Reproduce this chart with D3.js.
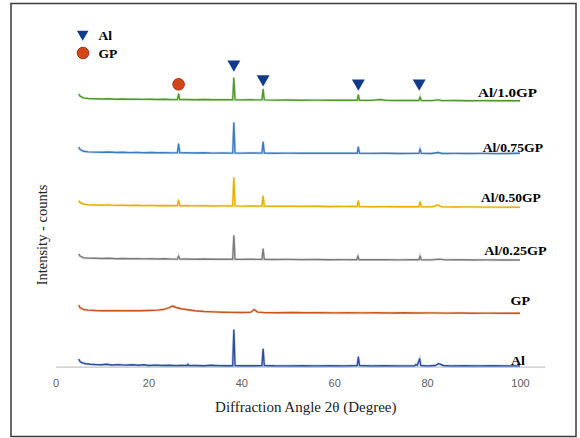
<!DOCTYPE html>
<html>
<head>
<meta charset="utf-8">
<script src="https://cdn.jsdelivr.net/npm/d3@7"></script>
<style>
  body { margin: 0; background: #fff; }
  svg { display: block; }
</style>
</head>
<body>
<script>
'use strict';

// series names, bottom to top
const seriesNames = ['Al', 'GP', 'Al/0.25GP', 'Al/0.50GP', 'Al/0.75GP', 'Al/1.0GP'];

// vertical stacking offset of each pattern (counts)
const seriesOffsets = [0, 530, 1060, 1590, 2120, 2650];

// [2theta, intensity]
const alData = [[5,77],[5.3,50],[5.8,38],[6.5,30],[7.5,25],[8.5,22],[10,20],[11,24],[12,17],[13.5,21],[15,16],[16.5,19],[18,14],[19,19],[20,12],[21.5,16],[23,12],[24.5,15],[26,11],[27,13],[28.3,12],[28.5,24],[28.7,11],[30,12],[32,10],[33.5,14],[35,11],[36.5,9],[38.15,10],[38.4,367],[38.65,12],[40,10],[42,9],[44.45,11],[44.7,177],[44.95,12],[47,9],[50,8],[53,10],[56,8],[59,9],[62,8],[64.95,12],[65.2,97],[65.45,12],[68,8],[71,9],[74,8],[77.3,10],[77.6,22],[77.9,14],[78.4,80],[78.65,12],[80,8],[81.8,12],[82.5,30],[83.5,12],[85,8],[88,10],[91,8],[94,10],[97,8],[100,8]];
const gpData = [[5,87],[5.3,60],[6,42],[7,36],[8.5,32],[10,30],[12,31],[14,29],[16,31],[18,30],[20,32],[22,36],[23.5,45],[24.5,60],[25.2,77],[26,62],[27,50],[28.5,40],[30,30],[32,22],[34,18],[36,15],[38,13],[40,12],[42,14],[42.8,42],[43.5,16],[45,11],[48,10],[51,12],[54,9],[57,11],[60,8],[63,10],[66,8],[69,10],[72,7],[75,9],[78,7],[81,8],[84,6],[87,7],[90,5],[93,6],[96,4],[100,4]];
const al025Data = [[5,67],[5.3,45],[6,30],[7,26],[8.5,24],[10,22],[11.5,25],[13,20],[14.5,22],[16,19],[17.5,21],[19,18],[20.5,20],[22,17],[23.5,19],[25,16],[26.25,17],[26.5,47],[26.75,16],[28,17],[30,15],[32,17],[34,14],[36,15],[38.15,14],[38.4,250],[38.65,15],[40,13],[42,14],[44.45,13],[44.7,117],[44.95,13],[47,12],[50,13],[53,11],[56,12],[59,10],[62,11],[64.85,10],[65.1,47],[65.35,10],[68,9],[71,10],[74,8],[77,9],[78.25,9],[78.5,47],[78.75,9],[81,8],[82.5,16],[84,8],[87,9],[90,7],[93,8],[96,7],[100,7]];
const al050Data = [[5,70],[5.3,52],[6,36],[7,30],[8.5,27],[10,25],[11.5,28],[13,23],[14.5,25],[16,22],[17.5,24],[19,21],[20.5,23],[22,20],[23.5,22],[25,19],[26.25,20],[26.5,77],[26.75,19],[28,20],[30,18],[32,19],[34,17],[36,18],[38.15,17],[38.4,300],[38.65,18],[40,16],[42,17],[44.45,16],[44.7,117],[44.95,16],[47,14],[50,15],[53,13],[56,14],[59,12],[62,13],[64.95,12],[65.2,67],[65.45,11],[68,10],[71,11],[74,9],[77,10],[78.25,10],[78.5,60],[78.75,10],[81,8],[82.4,27],[83.2,8],[86,7],[89,8],[92,6],[95,6],[100,4]];
const al075Data = [[5,77],[5.3,52],[6,34],[7,28],[8.5,26],[10,24],[11.5,27],[13,22],[14.5,24],[16,21],[17.5,23],[19,20],[20.5,22],[22,19],[23.5,21],[25,18],[26.25,19],[26.5,107],[26.75,18],[28,19],[30,17],[32,19],[34,16],[36,17],[38.15,16],[38.4,320],[38.65,17],[40,16],[42,17],[44.45,16],[44.7,127],[44.95,16],[47,15],[50,16],[53,14],[56,15],[59,14],[62,15],[64.95,14],[65.2,77],[65.45,14],[68,13],[71,14],[74,12],[77,13],[78.25,13],[78.5,57],[78.75,13],[81,12],[82.4,22],[83.2,12],[86,13],[89,12],[92,13],[95,11],[100,14]];
const al10Data = [[5,77],[5.3,55],[6,38],[7,32],[8.5,30],[10,27],[11.5,30],[13,25],[14.5,27],[16,24],[17.5,26],[19,23],[20.5,25],[22,22],[23.5,24],[25,21],[26.25,22],[26.5,77],[26.75,21],[28,22],[30,20],[32,22],[34,19],[36,20],[38.15,19],[38.4,237],[38.65,20],[40,18],[42,19],[44.45,18],[44.7,124],[44.95,18],[47,16],[50,17],[53,15],[56,16],[59,14],[62,15],[64.95,14],[65.2,67],[65.45,14],[68,13],[70,22],[71,13],[74,12],[77,13],[78.25,12],[78.5,47],[78.75,12],[81,11],[82.4,18],[83.2,11],[86,12],[89,10],[92,11],[95,10],[100,10]];

// reflection markers: 2theta and height (counts)
const alPeakAngles = [38.4, 44.7, 65.2, 78.3];
const alPeakLevels = [3024, 2877, 2834, 2834];
const gpPeakAngles = [26.5];
const gpPeakLevels = [2824];

const xTicks = [0, 20, 40, 60, 80, 100];

const seriesData = [alData, gpData, al025Data, al050Data, al075Data, al10Data];
const seriesColors = ['#2b4f9f', '#c8561c', '#7b7b7b', '#e9b000', '#3b7cbf', '#4e9a2b'];
// label anchor (right edge x, baseline y) and drawn width
const labelPos = [[525, 365], [530, 305], [546.7, 255], [540.7, 201.7], [543, 151.7], [537, 96.7]];
const labelWidth = [14, 19.5, 62.5, 59.7, 60.3, 59];

const width = 580, height = 438;

const svg = d3.select('body').append('svg')
  .attr('width', width)
  .attr('height', height);

// frame
svg.append('rect')
  .attr('x', 11).attr('y', 3.5)
  .attr('width', 565).attr('height', 433)
  .attr('fill', '#fff')
  .attr('stroke', '#3a3a3a')
  .attr('stroke-width', 1.5);

const xScale = d3.scaleLinear().domain([0, 105.3]).range([55.5, 544.6]);
const yScale = d3.scaleLinear().domain([0, 3100]).range([366.7, 56.7]);

// x axis
const xAxis = d3.axisBottom(xScale)
  .tickValues(xTicks)
  .tickSize(0)
  .tickPadding(13);
const gx = svg.append('g')
  .attr('transform', 'translate(0,' + yScale(0) + ')')
  .call(xAxis);
gx.select('.domain').attr('stroke', '#c4c4c4').attr('stroke-width', 1.2);
gx.selectAll('text')
  .attr('fill', '#606060')
  .style('font-family', '"Liberation Sans", Arial, sans-serif')
  .style('font-size', '11px');

// patterns
const line = d3.line()
  .x(d => xScale(d[0]))
  .y(d => d.y);

seriesData.forEach((data, i) => {
  const pts = data.map(d => { const p = [d[0], d[1]]; p.y = yScale(seriesOffsets[i] + d[1]); return p; });
  svg.append('path')
    .datum(pts)
    .attr('fill', 'none')
    .attr('stroke', seriesColors[i])
    .attr('stroke-opacity', 0.25)
    .attr('stroke-width', 2.6)
    .attr('d', line);
  svg.append('path')
    .datum(pts)
    .attr('fill', 'none')
    .attr('stroke', seriesColors[i])
    .attr('stroke-width', 1.4)
    .attr('stroke-linejoin', 'round')
    .attr('d', line);

  svg.append('text')
    .attr('x', labelPos[i][0] - labelWidth[i])
    .attr('y', labelPos[i][1])
    .attr('textLength', labelWidth[i])
    .attr('lengthAdjust', 'spacingAndGlyphs')
    .style('font-family', '"Liberation Serif", "Times New Roman", serif')
    .style('font-weight', 'bold')
    .style('font-size', '13px')
    .text(seriesNames[i]);
});

// markers
const tri = d3.symbol().type(d3.symbolTriangle).size(72);
alPeakAngles.forEach((a, i) => {
  svg.append('path')
    .attr('d', tri())
    .attr('transform', 'translate(' + xScale(a) + ',' + yScale(alPeakLevels[i]) + ') rotate(180)')
    .attr('fill', '#123a8c');
});
gpPeakAngles.forEach((a, i) => {
  svg.append('circle')
    .attr('cx', xScale(a))
    .attr('cy', yScale(gpPeakLevels[i]))
    .attr('r', 5.8)
    .attr('fill', '#d2461a')
    .attr('stroke', '#a8320f')
    .attr('stroke-width', 1);
});

// legend
svg.append('path')
  .attr('d', d3.symbol().type(d3.symbolTriangle).size(58)())
  .attr('transform', 'translate(82.7,34) rotate(180)')
  .attr('fill', '#123a8c');
svg.append('circle')
  .attr('cx', 83).attr('cy', 53).attr('r', 5.8)
  .attr('fill', '#d2461a')
  .attr('stroke', '#a8320f');
[['Al', 39.5], ['GP', 57.5]].forEach(l => {
  svg.append('text')
    .attr('x', 98.5)
    .attr('y', l[1])
    .style('font-family', '"Liberation Serif", "Times New Roman", serif')
    .style('font-weight', 'bold')
    .style('font-size', '13.5px')
    .text(l[0]);
});

// axis titles
svg.append('text')
  .attr('x', 305.8)
  .attr('y', 411.7)
  .attr('text-anchor', 'middle')
  .attr('fill', '#222')
  .style('font-family', '"Liberation Serif", "Times New Roman", serif')
  .style('font-size', '15px')
  .text('Diffraction Angle 2θ (Degree)');

svg.append('text')
  .attr('transform', 'translate(47.3,235) rotate(-90)')
  .attr('text-anchor', 'middle')
  .attr('fill', '#222')
  .style('font-family', '"Liberation Serif", "Times New Roman", serif')
  .style('font-size', '14.5px')
  .text('Intensity - counts');
</script>
</body>
</html>
